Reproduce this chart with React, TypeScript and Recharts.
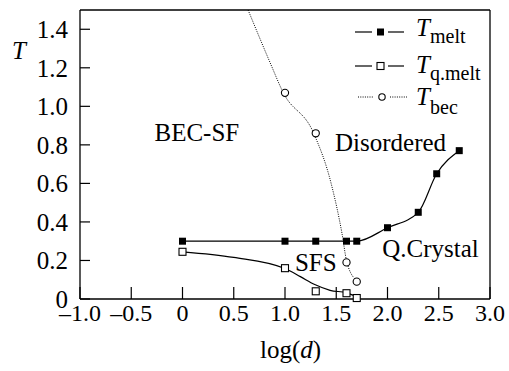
import React from "react"
import { ComposedChart, Line, XAxis, YAxis, ReferenceDot } from "recharts"

// T_melt (filled squares)
const meltLogD = [0, 1.0, 1.3, 1.6, 1.7, 2.0, 2.3, 2.48, 2.7]
const meltT = [0.3, 0.3, 0.3, 0.3, 0.3, 0.37, 0.45, 0.65, 0.77]
// T_q.melt (open squares)
const qMeltLogD = [0, 1.0, 1.3, 1.6, 1.7]
const qMeltT = [0.245, 0.16, 0.04, 0.03, 0.005]
// smooth line drawn through T_q.melt
const qMeltFitLogD = [0, 0.5, 1.0, 1.15, 1.29, 1.44, 1.6, 1.7]
const qMeltFitT = [0.245, 0.216, 0.158, 0.116, 0.075, 0.045, 0.032, 0.012]
// T_bec (open circles)
const becLogD = [1.0, 1.3, 1.6, 1.7]
const becT = [1.07, 0.86, 0.19, 0.09]
// dotted fit line of T_bec
const becFitLogD = [0.64, 0.86, 0.98, 1.28, 1.45, 1.556, 1.6, 1.69]
const becFitT = [1.5, 1.22, 1.074, 0.86, 0.6, 0.34, 0.2, 0.1]

const xMajor = [-1, -0.5, 0, 0.5, 1, 1.5, 2, 2.5, 3]
const xMinor = [-0.75, -0.25, 0.25, 0.75, 1.25, 1.75, 2.25, 2.75]
const yMajor = [0, 0.2, 0.4, 0.6, 0.8, 1.0, 1.2, 1.4]
const yMinor = [0.1, 0.3, 0.5, 0.7, 0.9, 1.1, 1.3]

const regions = [
  { name: "BEC-SF", x: 0.14, y: 0.867 },
  { name: "Disordered", x: 2.03, y: 0.815 },
  { name: "Q.Crystal", x: 2.42, y: 0.265 },
  { name: "SFS", x: 1.3, y: 0.19 },
]

const zip = (xs: number[], ys: number[]) => xs.map((x, i) => ({ x, t: ys[i] }))

const FONT = "Liberation Serif, Times New Roman, DejaVu Serif, serif"
const xTickStyle = { fill: "#000", fontSize: 24, style: { fontFamily: FONT } }
const yTickStyle = { fill: "#000", fontSize: 25, style: { fontFamily: FONT } }
const axisLine = { stroke: "#000", strokeWidth: 1.3 }
const tickLine = { stroke: "#000", strokeWidth: 1.2 }

const fmtX = (v: number) => (v === 0 ? "0" : v.toFixed(1).replace("-", "–"))
const fmtY = (v: number) => (v === 0 ? "0" : v.toFixed(1))

const filledSquare = (p: any) => (
  <rect key={`f${p.index}`} x={p.cx - 3.5} y={p.cy - 3.5} width={7} height={7} fill="#000" />
)
const openSquare = (p: any) => (
  <rect key={`o${p.index}`} x={p.cx - 3.5} y={p.cy - 3.5} width={7} height={7} fill="#fff" stroke="#000" strokeWidth={1.1} />
)
const openCircle = (p: any) => (
  <circle key={`c${p.index}`} cx={p.cx} cy={p.cy} r={3.6} fill="#fff" stroke="#000" strokeWidth={1.1} />
)

function LegendOverlay() {
  return (
    <svg width={509} height={371} style={{ position: "absolute", left: 0, top: 0, pointerEvents: "none", fontFamily: FONT }}>
      <text x={12} y={59} fontSize={25} fontStyle="italic">T</text>
      <text x={260} y={358} fontSize={25}>
        log(<tspan fontStyle="italic">d</tspan>)
      </text>

      <line x1={355} x2={372} y1={32} y2={32} stroke="#000" strokeWidth={1.2} />
      <rect x={377} y={28.5} width={7} height={7} fill="#000" />
      <line x1={388} x2={404} y1={32} y2={32} stroke="#000" strokeWidth={1.2} />
      <text x={416} y={36} fontSize={25} fontStyle="italic">T</text>
      <text x={430} y={43} fontSize={20}>melt</text>

      <line x1={355} x2={372} y1={66} y2={66} stroke="#000" strokeWidth={1.2} />
      <rect x={377} y={62.5} width={7} height={7} fill="#fff" stroke="#000" strokeWidth={1.1} />
      <line x1={388} x2={404} y1={66} y2={66} stroke="#000" strokeWidth={1.2} />
      <text x={416} y={73} fontSize={25} fontStyle="italic">T</text>
      <text x={430} y={80} fontSize={20}>q.melt</text>

      <line x1={358} x2={374} y1={97} y2={97} stroke="#000" strokeWidth={1} strokeDasharray="1 1.3" />
      <circle cx={382} cy={97} r={3.2} fill="#fff" stroke="#000" strokeWidth={1.1} />
      <line x1={390} x2={407} y1={97} y2={97} stroke="#000" strokeWidth={1} strokeDasharray="1 1.3" />
      <text x={416} y={105} fontSize={25} fontStyle="italic">T</text>
      <text x={430} y={114} fontSize={20}>bec</text>
    </svg>
  )
}

export default function App() {
  return (
    <div style={{ position: "absolute", left: 0, top: 0, width: 509, height: 371, background: "#fff", fontFamily: FONT }}>
      <ComposedChart width={509} height={371} margin={{ top: 9, right: 18, bottom: 70, left: 78 }} style={{ fontFamily: FONT }}>
        <XAxis
          dataKey="x"
          type="number"
          domain={[-1, 3]}
          ticks={xMajor}
          interval={0}
          tickFormatter={fmtX}
          tick={xTickStyle}
          tickSize={-12}
          tickMargin={17}
          axisLine={axisLine}
          tickLine={tickLine}
          height={1}
        />
        <XAxis xAxisId="minor" type="number" domain={[-1, 3]} ticks={xMinor} interval={0} tick={false} tickSize={-5} axisLine={false} tickLine={tickLine} height={1} />
        <XAxis xAxisId="top" orientation="top" type="number" domain={[-1, 3]} tick={false} tickLine={false} axisLine={axisLine} height={1} />
        <YAxis
          type="number"
          domain={[0, 1.5]}
          ticks={yMajor}
          interval={0}
          tickFormatter={fmtY}
          tick={yTickStyle}
          tickSize={-10}
          tickMargin={22}
          axisLine={axisLine}
          tickLine={tickLine}
          width={1}
        />
        <YAxis yAxisId="minor" type="number" domain={[0, 1.5]} ticks={yMinor} interval={0} tick={false} tickSize={-5} axisLine={false} tickLine={tickLine} width={1} />
        <YAxis yAxisId="right" orientation="right" type="number" domain={[0, 1.5]} tick={false} tickLine={false} axisLine={axisLine} width={1} />

        <Line data={zip(becFitLogD, becFitT)} dataKey="t" type="monotone" stroke="#000" strokeWidth={1} strokeDasharray="1 1.3" dot={false} isAnimationActive={false} />
        <Line data={zip(qMeltFitLogD, qMeltFitT)} dataKey="t" type="monotone" stroke="#000" strokeWidth={1.2} dot={false} isAnimationActive={false} />
        <Line data={zip(qMeltLogD, qMeltT)} dataKey="t" stroke="none" dot={openSquare} isAnimationActive={false} />
        <Line data={zip(meltLogD, meltT)} dataKey="t" type="monotone" stroke="#000" strokeWidth={1.2} dot={filledSquare} isAnimationActive={false} />
        <Line data={zip(becLogD, becT)} dataKey="t" stroke="none" dot={openCircle} isAnimationActive={false} />

        {regions.map((r) => (
          <ReferenceDot
            key={r.name}
            x={r.x}
            y={r.y}
            r={0}
            fill="none"
            stroke="none"
            label={{ value: r.name, position: "center", fontSize: 25, fill: "#000", style: { fontFamily: FONT } }}
          />
        ))}
      </ComposedChart>
      <LegendOverlay />
    </div>
  )
}
